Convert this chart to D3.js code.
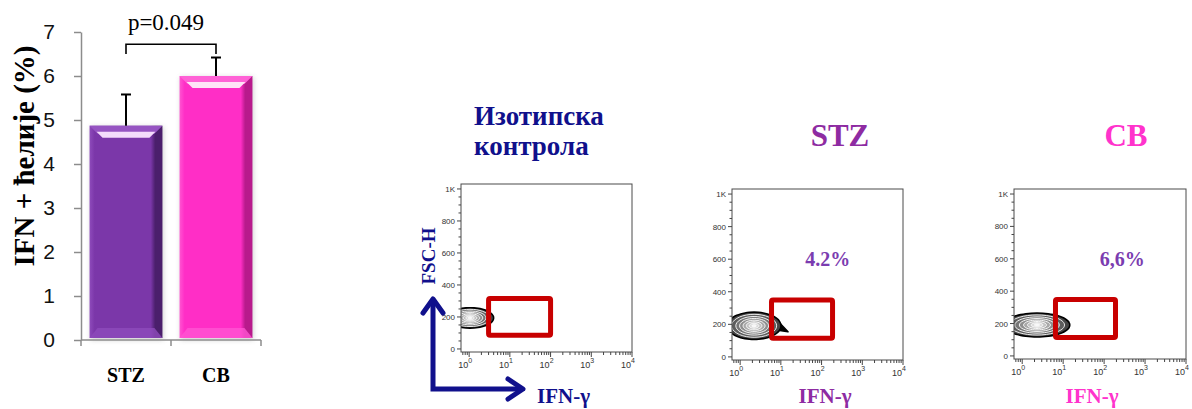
<!DOCTYPE html>
<html><head><meta charset="utf-8">
<script src="https://cdn.jsdelivr.net/npm/d3@7"></script>
<style>body{margin:0;background:#fff}svg{display:block}</style>
</head><body>
<svg id="chart" width="1192" height="409"></svg>
<script>
// ---- bar chart data ----
const groups = ["STZ", "CB"];
const meanValues = [4.87, 6.0];
const errorValues = [0.71, 0.42];
const yTicks = [0, 1, 2, 3, 4, 5, 6, 7];
const pValueLabel = "p=0.049";
const bracketLevels = [6.72, 6.5]; // top of bracket, bottom of its arms

// ---- flow cytometry panels ----
const panelTitles = [["Изотипска", "контрола"], ["STZ"], ["CB"]];
const gatePercents = [null, "4.2%", "6,6%"];
const fscTicks = [0, 200, 400, 600, 800, 1000];
const fscTickLabels = ["0", "200", "400", "600", "800", "1K"];
const ifnDecades = [0, 1, 2, 3, 4];
const gateIfn = [[3, 100], [5.9, 186], [6.5, 190]];
const gateFsc = [[85, 315], [114, 349], [114, 349]];
// population centre (IFN, FSC) and spread (decades, FSC units)
const popCenterIfn = [1.05, 2.2, 2.3];
const popCenterFsc = [194, 191, 191];
const popSpreadLog = [0.58, 0.66, 0.8];
const popSpreadFsc = [64, 84, 74];
const popTailIfn = [null, 15, null];
const popTailFsc = [null, 154, null];
const contourLevels = [1, 0.84, 0.68, 0.54, 0.41, 0.29, 0.18, 0.08];

const svg = d3.select("#chart");
const defs = svg.append("defs");
const serif = "'Liberation Serif','Times New Roman',serif";
const sans = "'Liberation Sans',Arial,sans-serif";

// ===================== bar chart =====================
const y = d3.scaleLinear().domain([0, 7]).range([340, 32]);
const x = d3.scaleBand().domain(groups).range([81, 261]).paddingInner(0.19).paddingOuter(0.095);

const barStyles = {
  STZ: {main: "#7b37a9", light: "#8e4bbb", dark: "#4b1f6c", hi: "#f4dcfb", rim: "#9654c2"},
  CB:  {main: "#ff2ec6", light: "#ff55d2", dark: "#b81a8c", hi: "#ffe4f7", rim: "#ff62d6"}
};

groups.forEach(g => {
  const s = barStyles[g];
  const grad = defs.append("linearGradient").attr("id", "grad-" + g)
    .attr("x1", 0).attr("x2", 1).attr("y1", 0).attr("y2", 0);
  [[0, s.light], [0.07, s.main], [0.84, s.main], [0.9, s.dark], [1, s.dark]].forEach(([o, c]) =>
    grad.append("stop").attr("offset", o).attr("stop-color", c));
});
const blur = defs.append("filter").attr("id", "soft").attr("x", "-20%").attr("y", "-20%")
  .attr("width", "140%").attr("height", "140%");
blur.append("feGaussianBlur").attr("stdDeviation", 2.5);

// y axis
const yAxis = svg.append("g").attr("transform", "translate(81,0)")
  .call(d3.axisLeft(y).tickValues(yTicks).tickFormat(d3.format("d"))
    .tickSize(7).tickSizeOuter(0).tickPadding(19));
yAxis.select(".domain").attr("stroke", "#8c8c8c").attr("stroke-width", 1.5);
yAxis.selectAll(".tick line").attr("stroke", "#8c8c8c").attr("stroke-width", 1.5);
yAxis.selectAll(".tick text").attr("font-family", sans).attr("font-size", 21).attr("fill", "#111");

// x axis line with group boundary ticks
const [xr0, xr1] = x.range();
svg.append("line").attr("x1", xr0).attr("x2", xr1).attr("y1", y(0)).attr("y2", y(0))
  .attr("stroke", "#8c8c8c").attr("stroke-width", 1.5);
const bounds = [xr0, (x(groups[0]) + x.bandwidth() + x(groups[1])) / 2, xr1];
svg.selectAll(".xb").data(bounds).enter().append("line")
  .attr("x1", d => d).attr("x2", d => d).attr("y1", y(0)).attr("y2", y(0) + 6)
  .attr("stroke", "#8c8c8c").attr("stroke-width", 1.5);

// bars
groups.forEach((g, i) => {
  const s = barStyles[g];
  const x0 = x(g), w = x.bandwidth(), x1 = x0 + w;
  const yt = y(meanValues[i]), yb = y(0) - 2;
  const b = 8;
  svg.append("rect").attr("x", x0 + 1).attr("y", yt + 1).attr("width", w).attr("height", yb - yt + 1)
    .attr("fill", "#999").attr("opacity", 0.45).attr("filter", "url(#soft)");
  svg.append("rect").attr("x", x0).attr("y", yt).attr("width", w).attr("height", yb - yt)
    .attr("fill", `url(#grad-${g})`);
  // top bevel
  svg.append("polygon").attr("points",
    [[x0, yt], [x1, yt], [x1 - b, yt + b], [x0 + b, yt + b]].map(p => p.join(",")).join(" "))
    .attr("fill", s.rim);
  // highlight band
  svg.append("polygon").attr("points",
    [[x0 + 7, yt + 6], [x1 - 7, yt + 6], [x1 - 13, yt + 12], [x0 + 13, yt + 12]].map(p => p.join(",")).join(" "))
    .attr("fill", s.hi);
  // bottom bevel
  svg.append("polygon").attr("points",
    [[x0, yb], [x1, yb], [x1 - b, yb - b - 2], [x0 + b, yb - b - 2]].map(p => p.join(",")).join(" "))
    .attr("fill", s.light).attr("opacity", 0.8);
  // error bar (upper whisker)
  const cx = x0 + w / 2;
  const ye = y(meanValues[i] + errorValues[i]);
  svg.append("line").attr("x1", cx).attr("x2", cx).attr("y1", yt).attr("y2", ye)
    .attr("stroke", "#000").attr("stroke-width", 2);
  svg.append("line").attr("x1", cx - 5).attr("x2", cx + 5).attr("y1", ye).attr("y2", ye)
    .attr("stroke", "#000").attr("stroke-width", 2);
  // category label
  svg.append("text").attr("x", cx).attr("y", 382).attr("text-anchor", "middle")
    .attr("font-family", serif).attr("font-weight", "bold").attr("font-size", 20).text(g);
});

// significance bracket
const bx0 = x(groups[0]) + x.bandwidth() / 2, bx1 = x(groups[1]) + x.bandwidth() / 2;
svg.append("path")
  .attr("d", `M${bx0},${y(bracketLevels[1])}V${y(bracketLevels[0])}H${bx1}V${y(bracketLevels[1])}`)
  .attr("fill", "none").attr("stroke", "#000").attr("stroke-width", 1.6);
svg.append("text").attr("x", 166).attr("y", 30).attr("text-anchor", "middle")
  .attr("font-family", serif).attr("font-size", 23).text(pValueLabel);

// y axis title
svg.append("text").attr("transform", "translate(34,156) rotate(-90)").attr("text-anchor", "middle")
  .attr("font-family", serif).attr("font-weight", "bold").attr("font-size", 29).text("IFN + ћелије (%)");

// ===================== flow cytometry panels =====================
const layout = [
  {left: 461, top: 184, width: 171, height: 168},
  {left: 732, top: 189, width: 171, height: 171},
  {left: 1014, top: 189, width: 172, height: 170}
];
const titleColors = ["#10108c", "#8e2ba2", "#ff33cc"];
const axisLabelColors = ["#10108c", "#8e2ba2", "#ff33cc"];

layout.forEach((L, i) => {
  const g = svg.append("g");
  const fx = d3.scaleLog().domain([Math.pow(10, -0.2), 1e4]).range([L.left, L.left + L.width]);
  const fy = d3.scaleLinear().domain([-19, 1031]).range([L.top + L.height, L.top]);

  const clipId = "clip" + i;
  defs.append("clipPath").attr("id", clipId).append("rect")
    .attr("x", L.left).attr("y", L.top).attr("width", L.width).attr("height", L.height);

  // density contours
  const cg = g.append("g").attr("clip-path", `url(#${clipId})`);
  const line = d3.line().curve(d3.curveCardinalClosed);
  const angles = d3.range(0, 2 * Math.PI, Math.PI / 18);
  const ring = lv => angles.map(t => [
    fx(Math.pow(10, Math.log10(popCenterIfn[i]) + popSpreadLog[i] * lv * Math.cos(t))),
    fy(popCenterFsc[i] + popSpreadFsc[i] * lv * Math.sin(t))
  ]);
  if (popTailIfn[i]) {
    const tip = [fx(popTailIfn[i]), fy(popTailFsc[i])];
    const a = ring(0.95);
    cg.append("path").attr("d", d3.line()([a[34], tip, a[2]]) + "Z").attr("fill", "#000")
      .attr("stroke", "#000").attr("stroke-width", 1.5).attr("stroke-linejoin", "round");
  }
  contourLevels.forEach((lv, k) => {
    const grey = d3.interpolateRgb("#444", "#f4f4f4")(k / (contourLevels.length - 1));
    cg.append("path").attr("d", line(ring(lv))).attr("fill", grey)
      .attr("stroke", k === 0 ? "#000" : "#fff").attr("stroke-width", k === 0 ? 1.6 : 0.9);
  });

  // frame
  g.append("rect").attr("x", L.left).attr("y", L.top).attr("width", L.width).attr("height", L.height)
    .attr("fill", "none").attr("stroke", "#4a4a4a").attr("stroke-width", 1);

  // y ticks
  d3.range(0, 1001, 50).forEach(v => {
    const major = v % 200 === 0;
    g.append("line").attr("x1", L.left - (major ? 4 : 2.5)).attr("x2", L.left)
      .attr("y1", fy(v)).attr("y2", fy(v)).attr("stroke", "#444").attr("stroke-width", 1);
  });
  fscTicks.forEach((v, k) => {
    g.append("text").attr("x", L.left - 6).attr("y", fy(v) + 3).attr("text-anchor", "end")
      .attr("font-family", sans).attr("font-size", 8).attr("fill", "#333").text(fscTickLabels[k]);
  });

  // x ticks (log decades with minor ticks)
  ifnDecades.forEach(d => {
    const v = Math.pow(10, d);
    g.append("line").attr("x1", fx(v)).attr("x2", fx(v)).attr("y1", L.top + L.height)
      .attr("y2", L.top + L.height + 5).attr("stroke", "#444");
    if (d < 4) d3.range(2, 10).forEach(m => {
      g.append("line").attr("x1", fx(m * v)).attr("x2", fx(m * v)).attr("y1", L.top + L.height)
        .attr("y2", L.top + L.height + 3).attr("stroke", "#444");
    });
    const t = g.append("text").attr("x", fx(v) - 4).attr("y", L.top + L.height + 16)
      .attr("text-anchor", "middle").attr("font-family", sans).attr("font-size", 9).attr("fill", "#333");
    t.append("tspan").text("10");
    t.append("tspan").attr("dy", -5).attr("font-size", 7).text(d);
  });
  [0.7, 0.8, 0.9].forEach(v => {
    g.append("line").attr("x1", fx(v)).attr("x2", fx(v)).attr("y1", L.top + L.height)
      .attr("y2", L.top + L.height + 3).attr("stroke", "#444");
  });

  // gate
  g.append("rect")
    .attr("x", fx(gateIfn[i][0])).attr("y", fy(gateFsc[i][1]))
    .attr("width", fx(gateIfn[i][1]) - fx(gateIfn[i][0]))
    .attr("height", fy(gateFsc[i][0]) - fy(gateFsc[i][1]))
    .attr("fill", "none").attr("stroke", "#c80000").attr("stroke-width", 5).attr("rx", 1.5);

  if (gatePercents[i]) {
    g.append("text").attr("x", L.left + L.width * (i === 1 ? 0.56 : 0.63)).attr("y", 266)
      .attr("text-anchor", "middle").attr("font-family", serif).attr("font-weight", "bold")
      .attr("font-size", 20).attr("fill", "#7b3cb0").text(gatePercents[i]);
  }
});

// panel titles
const t0 = svg.append("text").attr("font-family", serif).attr("font-weight", "bold")
  .attr("font-size", 27).attr("fill", titleColors[0]);
t0.append("tspan").attr("x", 474).attr("y", 125).text(panelTitles[0][0]);
t0.append("tspan").attr("x", 474).attr("y", 155).text(panelTitles[0][1]);
svg.append("text").attr("x", 840).attr("y", 146).attr("text-anchor", "middle")
  .attr("font-family", serif).attr("font-weight", "bold").attr("font-size", 31)
  .attr("fill", titleColors[1]).text(panelTitles[1][0]);
svg.append("text").attr("x", 1126).attr("y", 146).attr("text-anchor", "middle")
  .attr("font-family", serif).attr("font-weight", "bold").attr("font-size", 31)
  .attr("fill", titleColors[2]).text(panelTitles[2][0]);

// axis names
svg.append("text").attr("x", 537).attr("y", 403).attr("font-family", serif).attr("font-weight", "bold")
  .attr("font-size", 21).attr("fill", axisLabelColors[0]).text("IFN-γ");
svg.append("text").attr("x", 825).attr("y", 403).attr("text-anchor", "middle").attr("font-family", serif)
  .attr("font-weight", "bold").attr("font-size", 21).attr("fill", axisLabelColors[1]).text("IFN-γ");
svg.append("text").attr("x", 1092).attr("y", 403).attr("text-anchor", "middle").attr("font-family", serif)
  .attr("font-weight", "bold").attr("font-size", 21).attr("fill", axisLabelColors[2]).text("IFN-γ");
svg.append("text").attr("transform", "translate(435,256) rotate(-90)").attr("text-anchor", "middle")
  .attr("font-family", serif).attr("font-weight", "bold").attr("font-size", 19)
  .attr("fill", axisLabelColors[0]).text("FSC-H");

// axis direction arrows
const navy = "#10108c";
svg.append("path").attr("d", "M433,299V389H523").attr("fill", "none").attr("stroke", navy)
  .attr("stroke-width", 5).attr("stroke-linejoin", "miter");
svg.append("path").attr("d", "M423,313L433,299L443,313").attr("fill", "none").attr("stroke", navy)
  .attr("stroke-width", 5).attr("stroke-linecap", "round").attr("stroke-linejoin", "round");
svg.append("path").attr("d", "M508,379L523,389L508,399").attr("fill", "none").attr("stroke", navy)
  .attr("stroke-width", 5).attr("stroke-linecap", "round").attr("stroke-linejoin", "round");
</script>
</body></html>
